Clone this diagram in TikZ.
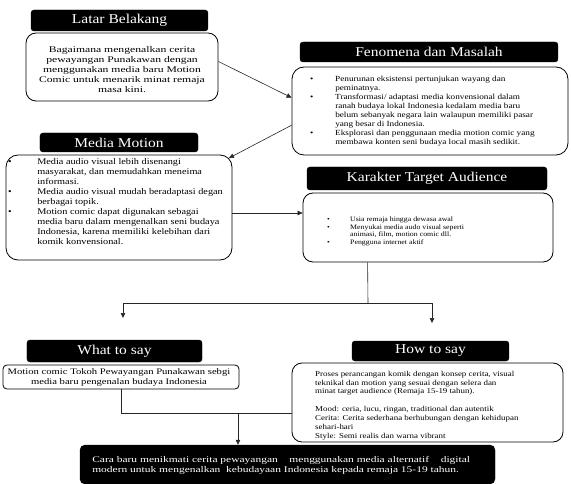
\documentclass[tikz,border=0pt]{standalone}
\usepackage{fontspec}
\setmainfont{Liberation Serif}
\usetikzlibrary{arrows.meta,calc}
\newcommand\bulit[1]{\makebox[#1pt][l]{•}}
\newcommand\contl[1]{\makebox[#1pt]{}}
\begin{document}
\begin{tikzpicture}[x=1pt,y=1pt,
  head/.style={fill=black, draw=black, rounded corners=3pt, text=white,
    font=\fontsize{13.5}{15}\selectfont, inner sep=0pt, xscale=1.15, transform shape},
  body/.style={draw=black, line width=0.8pt, rounded corners=10pt, fill=white, inner sep=0pt},
  txt/.style={inner sep=0pt, align=left, transform shape},
  conn/.style={draw=black!85, line width=0.6pt},
  arr/.style={conn, -{Triangle[length=5pt,width=4.5pt]}}]
\useasboundingbox (0,0) rectangle (571,-484);

% Latar Belakang
\node[body, minimum width=192, minimum height=68] (lb) at (122,-67) {};
\begin{scope}[shift={(119.5,-20.5)}]
\node[head, minimum width=153.9, minimum height=21] (lh) at (0,0) {Latar Belakang};
\end{scope}
\begin{scope}[shift={(122,-70)}]
\node[txt, align=center, xscale=1.34, font=\fontsize{8.7}{10}\selectfont] (lbt) at (0,0)
  {Bagaimana mengenalkan cerita\\pewayangan Punakawan dengan\\menggunakan media baru Motion\\Comic untuk menarik minat remaja\\masa kini.};
\end{scope}

% Fenomena dan Masalah
\node[body, rounded corners=12pt, minimum width=276, minimum height=88] (fb) at (430,-111) {};
\begin{scope}[shift={(429,-52)}]
\node[head, minimum width=224.3, minimum height=20] (fh) at (0,0) {Fenomena dan Masalah};
\end{scope}
\begin{scope}[shift={(310,-111)}]
\node[txt, anchor=west, xscale=1.18, font=\fontsize{7.8}{8.9}\selectfont] (fbt) at (0,0)
  {\bulit{21.2}Penurunan eksistensi pertunjukan wayang dan\\
   \contl{21.2}peminatnya.\\
   \bulit{21.2}Transformasi/ adaptasi media konvensional dalam\\
   \contl{21.2}ranah budaya lokal Indonesia kedalam media baru\\
   \contl{21.2}belum sebanyak negara lain walaupun memiliki pasar\\
   \contl{21.2}yang besar di Indonesia.\\
   \bulit{21.2}Eksplorasi dan penggunaan media motion comic yang\\
   \contl{21.2}membawa konten seni budaya local masih sedikit.};
\end{scope}

% Media Motion
\node[body, rounded corners=12pt, minimum width=226, minimum height=105] (mb) at (119,-207.5) {};
\begin{scope}[shift={(119,-142.5)}]
\node[head, minimum width=137.4, minimum height=19] (mh) at (0,0) {Media Motion};
\end{scope}
\begin{scope}[shift={(8,-202)}]
\node[txt, anchor=west, xscale=1.18, font=\fontsize{8.7}{10}\selectfont] (mbt) at (0,0)
  {\bulit{24.6}Media audio visual lebih disenangi\\
   \contl{24.6}masyarakat, dan memudahkan meneima\\
   \contl{24.6}informasi.\\
   \bulit{24.6}Media audio visual mudah beradaptasi degan\\
   \contl{24.6}berbagai topik.\\
   \bulit{24.6}Motion comic dapat digunakan sebagai\\
   \contl{24.6}media baru dalam mengenalkan seni budaya\\
   \contl{24.6}Indonesia, karena memiliki kelebihan dari\\
   \contl{24.6}komik konvensional.};
\end{scope}

% Karakter Target Audience
\node[body, minimum width=250, minimum height=69] (kb) at (428,-227.5) {};
\begin{scope}[shift={(427,-178.5)}]
\node[head, minimum width=208.7, minimum height=23] (kh) at (0,0) {Karakter Target Audience};
\end{scope}
\begin{scope}[shift={(327,-231.5)}]
\node[txt, anchor=west, xscale=1.155, font=\fontsize{6.8}{7.7}\selectfont] (kbt) at (0,0)
  {\bulit{19.9}Usia remaja hingga dewasa awal\\
   \bulit{19.9}Menyukai media audo visual seperti\\
   \contl{19.9}animasi, film, motion comic dll.\\
   \bulit{19.9}Pengguna internet aktif};
\end{scope}

% What to say
\node[body, rounded corners=4pt, minimum width=236, minimum height=24] (wb) at (121,-377) {};
\begin{scope}[shift={(114.5,-351)}]
\node[head, minimum width=152.2, minimum height=22] (wh) at (0,0) {What to say};
\end{scope}
\begin{scope}[shift={(119,-377)}]
\node[txt, align=center, xscale=1.25, font=\fontsize{8.5}{10}\selectfont] (wbt) at (0,0)
  {Motion comic Tokoh Pewayangan Punakawan sebgi\\media baru pengenalan budaya Indonesia};
\end{scope}

% How to say
\node[body, minimum width=271, minimum height=79] (hb) at (427.5,-402.5) {};
\begin{scope}[shift={(430.5,-351)}]
\node[head, minimum width=136.5, minimum height=20] (hh) at (0,0) {How to say};
\end{scope}
\begin{scope}[shift={(315,-405.5)}]
\node[txt, anchor=west, xscale=1.19, font=\fontsize{7.5}{8.9}\selectfont] (hbt) at (0,0)
  {Proses perancangan komik dengan konsep cerita, visual\\
   teknikal dan motion yang sesuai dengan selera dan\\
   minat target audience (Remaja 15-19 tahun).\\[8.9pt]
   Mood: ceria, lucu, ringan, traditional dan autentik\\
   Cerita: Cerita sederhana berhubungan dengan kehidupan\\
   sehari-hari\\
   Style: Semi realis dan warna vibrant};
\end{scope}

% Final
\node[fill=black, draw=black, rounded corners=5pt, minimum width=415, minimum height=39, inner sep=0pt] (fin) at (287.5,-464.5) {};
\begin{scope}[shift={(92,-465)}]
\node[txt, anchor=west, text=white, xscale=1.32, font=\fontsize{8.7}{10}\selectfont] (fint) at (0,0)
  {Cara baru menikmati cerita pewayangan\hspace{8.8pt}menggunakan media alternatif\hspace{8.8pt}digital\\
   modern untuk mengenalkan\ \ kebudayaan Indonesia kepada remaja 15-19 tahun.};
\end{scope}

% connectors
\coordinate (c1s) at ($(lb.north east)!0.42!(lb.south east)$);
\coordinate (c1e) at ($(fb.north west)!0.35!(fb.south west)$);
\draw[arr] (c1s) -- (c1e);

\coordinate (c2s) at ($(fb.north west)!0.66!(fb.south west)$);
\coordinate (c2e) at ($(mb.north east)+(-3.5,-3.5)$);
\draw[arr] (c2s) -- (c2e);

\coordinate (y213) at (0,-213);
\draw[arr] (mb.east |- y213) -- (kb.west |- y213);

\coordinate (kbl) at ($(kb.south west)+(65,0)$);
\coordinate (j1) at (368,-303);
\coordinate (a1) at (123,-318);
\coordinate (a2) at (432,-323);
\draw[conn] (kbl) -- (j1);
\draw[arr] (j1) -| (a1);
\draw[arr] (j1) -| (a2);

\coordinate (y413) at (0,-413);
\draw[conn] (wb.south) |- (hb.west |- y413);
\coordinate (j2) at (238,-413);
\draw[arr] (j2) -- (fin.north -| j2);
\end{tikzpicture}
\end{document}
